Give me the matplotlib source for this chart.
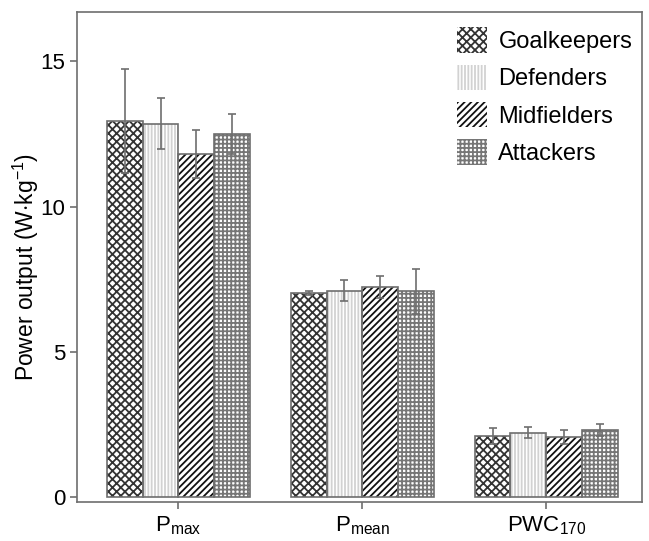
import matplotlib
matplotlib.use("Agg")
import matplotlib.pyplot as plt
import numpy as np
from matplotlib.patches import Patch

plt.rcParams["font.family"] = ["Liberation Sans", "DejaVu Sans"]
plt.rcParams["mathtext.fontset"] = "custom"
plt.rcParams["mathtext.rm"] = "Liberation Sans"
plt.rcParams["mathtext.it"] = "Liberation Sans"
plt.rcParams["hatch.linewidth"] = 1.3

# --- data ---
groups = [r"P$_{\mathrm{max}}$", r"P$_{\mathrm{mean}}$", r"PWC$_{\mathrm{170}}$"]
positions = ["Goalkeepers", "Defenders", "Midfielders", "Attackers"]
goalkeepers = [12.95, 7.02, 2.10]
defenders = [12.85, 7.10, 2.22]
midfielders = [11.80, 7.24, 2.07]
attackers = [12.50, 7.08, 2.30]
goalkeepers_sd = [1.78, 0.08, 0.27]
defenders_sd = [0.88, 0.36, 0.20]
midfielders_sd = [0.82, 0.37, 0.24]
attackers_sd = [0.68, 0.78, 0.20]

means = [goalkeepers, defenders, midfielders, attackers]
sds = [goalkeepers_sd, defenders_sd, midfielders_sd, attackers_sd]
hatches = ["xxxx", "|||||", "/////", "++++"]
hatch_colors = ["#333333", "#d2d2d2", "#111111", "#767676"]

fig = plt.figure(figsize=(6.49, 5.41), dpi=100)
ax = fig.add_axes([0.1186, 0.072, 0.8706, 0.906])

x = np.arange(len(groups))
w = 0.195
handles = []
for i, (m, s) in enumerate(zip(means, sds)):
    xs = x + (i - 1.5) * w
    # hatch layer (hatch colour comes from edgecolor)
    ax.bar(xs, m, w, color="white", hatch=hatches[i],
           edgecolor=hatch_colors[i], linewidth=0, zorder=2)
    # outline
    ax.bar(xs, m, w, fill=False, edgecolor="#6e6e6e", linewidth=1.2, zorder=3)
    ax.errorbar(xs, m, yerr=s, fmt="none", ecolor="#6e6e6e",
                elinewidth=1.2, capsize=3, capthick=1.2, zorder=4)
    handles.append(Patch(facecolor="white", hatch=hatches[i],
                         edgecolor=hatch_colors[i], linewidth=0))

ax.set_xlim(-0.552, 2.52)
ax.set_ylim(-0.17, 16.7)
ax.set_yticks([0, 5, 10, 15])
ax.set_xticks(x)
ax.set_xticklabels(groups)
ax.tick_params(axis="both", labelsize=16, color="#6e6e6e", width=1.2)
ax.tick_params(axis="y", length=5)
ax.tick_params(axis="x", length=5, pad=4)
for sp in ax.spines.values():
    sp.set_color("#6e6e6e")
    sp.set_linewidth(1.2)
ax.set_ylabel(r"Power output (W$\cdot$kg$^{\mathrm{-1}}$)", fontsize=16.5)
ax.yaxis.set_label_coords(-0.063, 0.48)

ax.legend(handles, positions, loc="upper right", frameon=False, fontsize=17,
          handlelength=1.27, handleheight=1.27, labelspacing=0.5,
          handletextpad=0.5, borderaxespad=0.25,
          bbox_to_anchor=(1.01, 1.0))

fig.savefig("out.png", dpi=100)
